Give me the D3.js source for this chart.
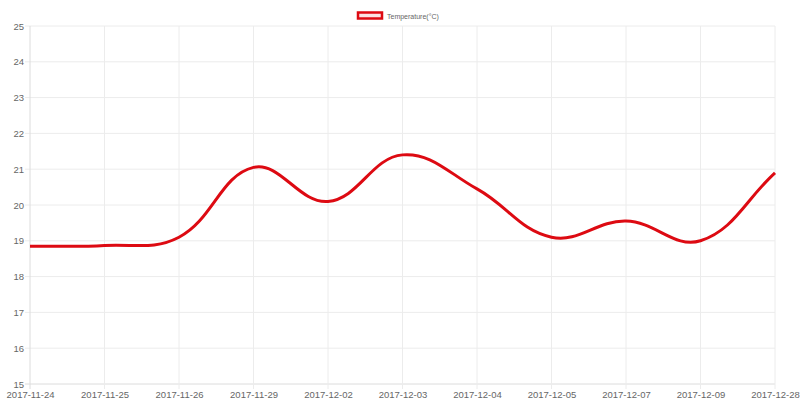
<!DOCTYPE html>
<html><head><meta charset="utf-8">
<script src="https://cdn.jsdelivr.net/npm/d3@7"></script>
<style>body{margin:0;background:#fff;font-family:"Liberation Sans",Arial,sans-serif;}</style>
</head><body><svg id="c" width="800" height="411"></svg>
<script>
const categories = ["2017-11-24","2017-11-25","2017-11-26","2017-11-29","2017-12-02","2017-12-03","2017-12-04","2017-12-05","2017-12-07","2017-12-09","2017-12-28"];
const temperatures = [18.85, 18.87, 19.1, 21.05, 20.1, 21.4, 20.45, 19.1, 19.55, 19.0, 20.9];
const yTicks = [15,16,17,18,19,20,21,22,23,24,25];
const seriesName = "Temperature(°C)";

const svg = d3.select("#c");
const L = 30, R = 775, T = 26, B = 384;
const x = d3.scalePoint().domain(categories).range([L, R]);
const y = d3.scaleLinear().domain([15, 25]).range([B, T]);

// grid
const g = svg.append("g");
g.selectAll("line.h").data(yTicks).enter().append("line")
  .attr("x1", L - 5).attr("x2", R).attr("y1", d => y(d)).attr("y2", d => y(d))
  .attr("stroke", d => d === 15 ? "#dcdcdc" : "#ececec").attr("stroke-width", 1);
g.selectAll("line.v").data(categories).enter().append("line")
  .attr("x1", d => x(d)).attr("x2", d => x(d)).attr("y1", T).attr("y2", B + 5)
  .attr("stroke", (d, i) => i === 0 ? "#dcdcdc" : "#ececec").attr("stroke-width", 1);

// axes labels via d3 axes
const yAxis = svg.append("g").attr("transform", `translate(${L - 6},0)`)
  .call(d3.axisLeft(y).tickValues(yTicks).tickSize(0).tickPadding(0).tickFormat(d3.format("d")));
yAxis.select(".domain").remove();
yAxis.selectAll("text").attr("fill", "#666").style("font-size", "9.5px").style("font-family", "Liberation Sans, Arial, sans-serif");

const xAxis = svg.append("g").attr("transform", `translate(0,${B + 7})`)
  .call(d3.axisBottom(x).tickSize(0).tickPadding(0));
xAxis.select(".domain").remove();
xAxis.selectAll("text").attr("fill", "#666").style("font-size", "9.5px").style("font-family", "Liberation Sans, Arial, sans-serif");

// Chart.js style spline (tension 0.4)
const pts = categories.map((c, i) => [x(c), y(temperatures[i])]);
const t = 0.4;
const ctrl = pts.map((p, i) => {
  const prev = pts[Math.max(0, i - 1)], next = pts[Math.min(pts.length - 1, i + 1)];
  const d01 = Math.hypot(p[0] - prev[0], p[1] - prev[1]);
  const d12 = Math.hypot(next[0] - p[0], next[1] - p[1]);
  let s01 = d01 / (d01 + d12), s12 = d12 / (d01 + d12);
  if (isNaN(s01)) s01 = 0; if (isNaN(s12)) s12 = 0;
  const fa = t * s01, fb = t * s12;
  return {
    prev: [p[0] - fa * (next[0] - prev[0]), p[1] - fa * (next[1] - prev[1])],
    next: [p[0] + fb * (next[0] - prev[0]), p[1] + fb * (next[1] - prev[1])]
  };
});
const path = d3.path();
path.moveTo(pts[0][0], pts[0][1]);
for (let i = 1; i < pts.length; i++) {
  path.bezierCurveTo(ctrl[i-1].next[0], ctrl[i-1].next[1], ctrl[i].prev[0], ctrl[i].prev[1], pts[i][0], pts[i][1]);
}
svg.append("path").attr("d", path.toString()).attr("fill", "none")
  .attr("stroke", "#dd0a12").attr("stroke-width", 3);

// legend
svg.append("rect").attr("x", 358).attr("y", 12.5).attr("width", 24).attr("height", 6)
  .attr("fill", "#fbe3e4").attr("stroke", "#dd0a12").attr("stroke-width", 2.5);
svg.append("text").attr("x", 387).attr("y", 18.5).text(seriesName)
  .attr("fill", "#666").style("font-size", "7px").style("font-family", "Liberation Sans, Arial, sans-serif");
</script></body></html>
